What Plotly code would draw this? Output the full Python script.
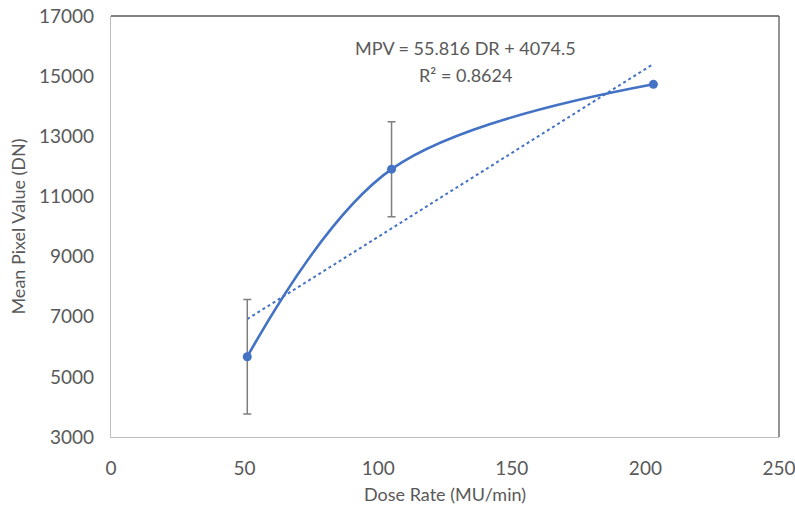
import plotly.graph_objects as go

dose_rate = [51, 105, 203]
mpv = [5670, 11906, 14728]
err = [1905, 1580, 0]
slope = 55.816
intercept = 4074.5
r2 = 0.8624
x_ticks = [0, 50, 100, 150, 200, 250]
y_ticks = [3000, 5000, 7000, 9000, 11000, 13000, 15000, 17000]

BLUE = "#4472C4"
TXT = "#595959"
FONT = "Lato"

fig = go.Figure()

trend_x = [min(dose_rate), max(dose_rate)]
trend_y = [slope * v + intercept for v in trend_x]
fig.add_trace(go.Scatter(x=trend_x, y=trend_y, mode="lines",
                         line=dict(color=BLUE, width=2, dash="dot"),
                         hoverinfo="skip", showlegend=False))

fig.add_trace(go.Scatter(
    x=dose_rate, y=mpv, mode="lines+markers",
    line=dict(color=BLUE, width=2.6, shape="spline", smoothing=1.0),
    marker=dict(color=BLUE, size=9),
    error_y=dict(type="data", array=err, visible=True, color="#7f7f7f",
                 thickness=1.5, width=4),
    showlegend=False))

fig.add_annotation(x=132.5, y=15936, xref="x", yref="y",
                   text="MPV = 55.816 DR + 4074.5", showarrow=False,
                   font=dict(family=FONT, size=18, color=TXT))
fig.add_annotation(x=132.5, y=15040, xref="x", yref="y",
                   text=f"R² = {r2}", showarrow=False,
                   font=dict(family=FONT, size=18, color=TXT))

fig.add_shape(type="line", xref="paper", yref="paper", x0=0, x1=1, y0=1, y1=1,
              line=dict(color="#595959", width=1.3))
fig.add_shape(type="line", xref="paper", yref="paper", x0=1, x1=1, y0=0, y1=1,
              line=dict(color="#595959", width=1.3))

fig.update_layout(
    width=795, height=506,
    margin=dict(l=111, r=16, t=16, b=69, autoexpand=False),
    paper_bgcolor="white", plot_bgcolor="white",
    font=dict(family=FONT, size=19, color=TXT),
    xaxis=dict(range=[0, 250], tickvals=x_ticks, ticktext=[str(v) for v in x_ticks],
               showgrid=False, zeroline=False, automargin=False,
               ticklabeloverflow="allow",
               showline=True, linecolor="#BFBFBF", linewidth=1.3,
               ticks="", ticklabelstandoff=14,
               title=dict(text="Dose Rate (MU/min)", standoff=10,
                          font=dict(family=FONT, size=18, color=TXT))),
    yaxis=dict(range=[3000, 17000], tickvals=y_ticks, ticktext=[str(v) for v in y_ticks],
               showgrid=False, zeroline=False, automargin=False,
               ticklabeloverflow="allow",
               showline=True, linecolor="#BFBFBF", linewidth=1.3,
               ticks="", ticklabelstandoff=12,
               title=dict(text="Mean Pixel Value (DN)", standoff=8,
                          font=dict(family=FONT, size=18, color=TXT))),
)

fig.write_html("out.html")
